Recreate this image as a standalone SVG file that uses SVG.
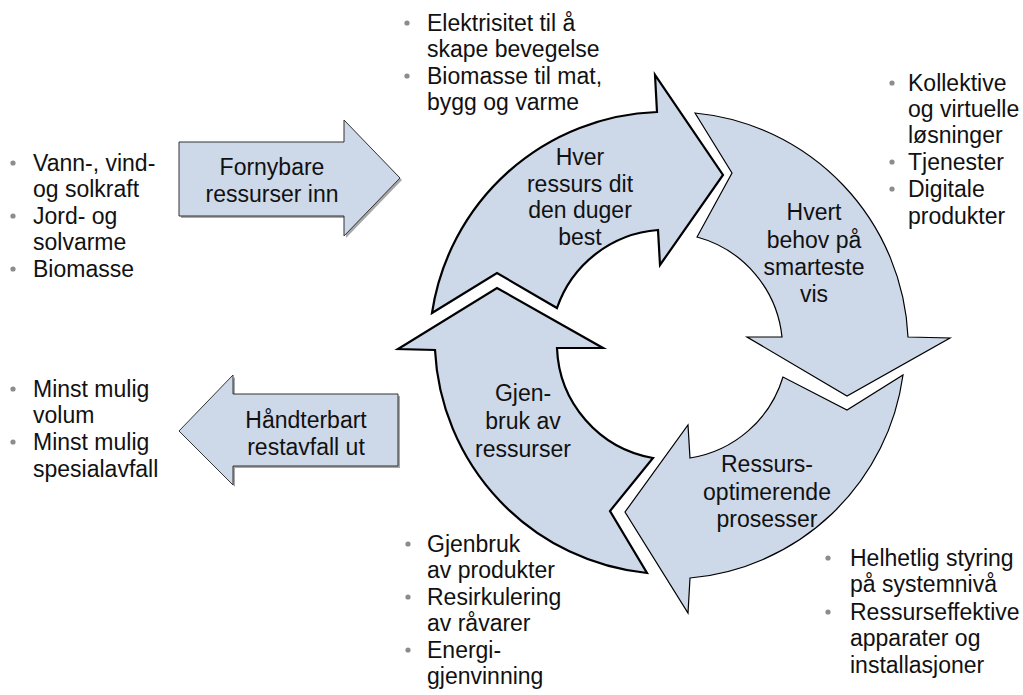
<svg xmlns="http://www.w3.org/2000/svg" width="1023" height="695" viewBox="0 0 1023 695">
<style>
text{font-family:"Liberation Sans",Arial,sans-serif;font-size:23px;fill:#111}
.c{text-anchor:middle}
.arr{fill:#CDD8E8;stroke:#000;stroke-linejoin:miter}
.thick{stroke-width:2.2}
.thin{stroke-width:1.2}
.side{fill:#CDD8E8;stroke:#333;stroke-width:1}
.shadow{fill:#a8a8a8;stroke:none}
.b{fill:#8c8c8c}
</style>
<rect width="1023" height="695" fill="#fff"/>
<g id="connectors">
<g id="inn-arrow">
<polygon class="shadow" points="181,144 346,144 346,122 402,180 346,238 346,218 181,218"/>
<polygon class="side" points="179,142 344,142 344,120 400,178 344,236 344,216 179,216"/>
<text class="c" x="272" y="175">Fornybare</text>
<text class="c" x="272" y="202">ressurser inn</text>
</g>
<g id="ut-arrow">
<polygon class="shadow" points="400,396 235,396 235,377 181,433 235,487 235,468 400,468"/>
<polygon class="side" points="398,394 233,394 233,375 179,431 233,485 233,466 398,466"/>
<text class="c" x="306" y="428">Håndterbart</text>
<text class="c" x="306" y="455">restavfall ut</text>
</g>
</g>
<g id="node-top">
<path class="arr thick" d="M432,313 A236,236 0 0 1 657,112 L655,75 L723,175 L660,265 L658,230 A116,116 0 0 0 557,308 L497,273 Z"/>
<text class="c" x="580" y="165">Hver</text>
<text class="c" x="580" y="192">ressurs dit</text>
<text class="c" x="580" y="218">den duger</text>
<text class="c" x="580" y="245">best</text>
</g>
<g id="node-right">
<path class="arr thin" d="M695,113 A236,236 0 0 1 908,337 L950,338 L847,396 L747,337 L782,337 A116,116 0 0 0 697,237 L732,173 Z"/>
<text class="c" x="814" y="220">Hvert</text>
<text class="c" x="814" y="248">behov på</text>
<text class="c" x="814" y="275">smarteste</text>
<text class="c" x="814" y="302">vis</text>
</g>
<g id="node-bottom">
<path class="arr thin" d="M903,375 A236,236 0 0 1 690,578 L688,613 L625,512 L688,425 L690,458 A116,116 0 0 0 783,377 L847,410 Z"/>
<text class="c" x="767" y="472">Ressurs-</text>
<text class="c" x="767" y="500">optimerende</text>
<text class="c" x="767" y="527">prosesser</text>
</g>
<g id="node-left">
<path class="arr thick" d="M647,573 A236,236 0 0 1 435,350 L398,349 L497,288 L603,348 L557,348 A116,116 0 0 0 653,458 L610,511 Z"/>
<text class="c" x="523" y="401">Gjen-</text>
<text class="c" x="523" y="429">bruk av</text>
<text class="c" x="523" y="457">ressurser</text>
</g>
<g id="list-left-top">
<circle class="b" cx="13" cy="163" r="2.6"/><circle class="b" cx="13" cy="216" r="2.6"/><circle class="b" cx="13" cy="269" r="2.6"/>
<text x="33" y="171">Vann-, vind-</text>
<text x="33" y="197">og solkraft</text>
<text x="33" y="224">Jord- og</text>
<text x="33" y="250">solvarme</text>
<text x="33" y="277">Biomasse</text>
</g>
<g id="list-left-bottom">
<circle class="b" cx="13" cy="389" r="2.6"/><circle class="b" cx="13" cy="442" r="2.6"/>
<text x="33" y="397">Minst mulig</text>
<text x="33" y="423">volum</text>
<text x="33" y="450">Minst mulig</text>
<text x="33" y="477">spesialavfall</text>
</g>
<g id="list-top">
<circle class="b" cx="407" cy="23" r="2.6"/><circle class="b" cx="407" cy="76" r="2.6"/>
<text x="427" y="31">Elektrisitet til å</text>
<text x="427" y="57">skape bevegelse</text>
<text x="427" y="84">Biomasse til mat,</text>
<text x="427" y="110">bygg og varme</text>
</g>
<g id="list-right">
<circle class="b" cx="892" cy="83" r="2.6"/><circle class="b" cx="892" cy="162" r="2.6"/><circle class="b" cx="892" cy="189" r="2.6"/>
<text x="908" y="91">Kollektive</text>
<text x="908" y="117">og virtuelle</text>
<text x="908" y="143">løsninger</text>
<text x="908" y="170">Tjenester</text>
<text x="908" y="197">Digitale</text>
<text x="908" y="224">produkter</text>
</g>
<g id="list-bottom-left">
<circle class="b" cx="408" cy="544" r="2.6"/><circle class="b" cx="408" cy="597" r="2.6"/><circle class="b" cx="408" cy="650" r="2.6"/>
<text x="427" y="552">Gjenbruk</text>
<text x="427" y="578">av produkter</text>
<text x="427" y="605">Resirkulering</text>
<text x="427" y="631">av råvarer</text>
<text x="427" y="658">Energi-</text>
<text x="427" y="684">gjenvinning</text>
</g>
<g id="list-bottom-right">
<circle class="b" cx="828" cy="558" r="2.6"/><circle class="b" cx="828" cy="612" r="2.6"/>
<text x="850" y="566">Helhetlig styring</text>
<text x="850" y="592">på systemnivå</text>
<text x="850" y="620">Ressurseffektive</text>
<text x="850" y="646">apparater og</text>
<text x="850" y="673">installasjoner</text>
</g>
</svg>
